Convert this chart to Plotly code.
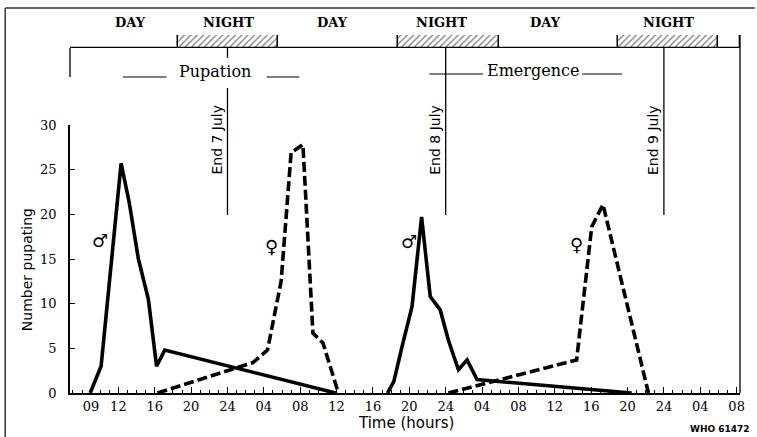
import plotly.graph_objects as go

# ---------------- data (hours counted from 00:00, 7 July) ----------------
male1_h = [8.9, 10.1, 12.3, 13.2, 14.2, 15.3, 16.2, 17.1, 35.9]
male1_n = [0, 3, 25.7, 21.3, 15, 10.5, 3, 4.8, 0]
female1_h = [16.3, 24.2, 26.8, 28.4, 29.9, 31.0, 32.3, 33.4, 34.5, 36.2]
female1_n = [0, 2.6, 3.4, 4.8, 12.5, 26.9, 27.8, 6.7, 5.6, 0]
male2_h = [41.6, 42.3, 43.2, 44.3, 45.35, 46.3, 47.4, 48.3, 49.4, 50.35, 51.45, 68.45]
male2_n = [0, 1.3, 5.2, 9.7, 19.7, 10.8, 9.3, 5.9, 2.6, 3.7, 1.5, 0]
female2_h = [48.3, 62.4, 64.06, 65.3, 70.3]
female2_n = [0, 3.7, 18.6, 21.1, 0]

tick_hours = [9, 12, 16, 20, 24, 28, 32, 36, 40, 44, 48, 52, 56, 60, 64, 68, 72, 76, 80]
tick_text = ["09", "12", "16", "20", "24", "04", "08", "12", "16", "20", "24",
             "04", "08", "12", "16", "20", "24", "04", "08"]
y_ticks = [0, 5, 10, 15, 20, 25, 30]

night_start = [18.6, 42.8, 66.9]
night_end = [29.6, 53.9, 78.0]
period_labels = ["DAY", "NIGHT", "DAY", "NIGHT", "DAY", "NIGHT"]
period_label_h = [13.3, 24.1, 35.5, 47.5, 59.0, 72.5]

day_ends = [24, 48, 72]
day_end_labels = ["End 7 July", "End 8 July", "End 9 July"]

sex_symbols = ["♂", "♀", "♂", "♀"]
sex_h = [10.0, 28.8, 44.0, 62.4]
sex_n = [17.1, 16.4, 17.0, 16.6]

X0, X1 = 6.68, 80.37

# ---------------- layout geometry ----------------
W, H = 757, 437
ML, MR, MT, MB = 70, 15, 30, 44
PH = H - MT - MB  # 363


def py(p):  # pixel row -> paper y
    return (H - MB - p) / PH


def px(p):  # pixel column -> paper x
    return (p - ML) / (W - ML - MR)


fig = go.Figure()

line_style = dict(color="black", width=3.6)
dash_style = dict(color="black", width=3.6, dash="10px,4px")
fig.add_trace(go.Scatter(x=male1_h, y=male1_n, mode="lines", line=line_style, showlegend=False))
fig.add_trace(go.Scatter(x=male2_h, y=male2_n, mode="lines", line=line_style, showlegend=False))
fig.add_trace(go.Scatter(x=female1_h, y=female1_n, mode="lines", line=dash_style, showlegend=False))
fig.add_trace(go.Scatter(x=female2_h, y=female2_n, mode="lines", line=dash_style, showlegend=False))

# day / night bar on its own axis at the top
seg_start, seg_len, seg_pat = [], [], []
prev = X0
for s, e in zip(night_start, night_end):
    seg_start.append(prev); seg_len.append(s - prev); seg_pat.append("")
    seg_start.append(s); seg_len.append(e - s); seg_pat.append("/")
    prev = e
seg_start.append(prev); seg_len.append(X1 - prev); seg_pat.append("")

fig.add_trace(go.Bar(
    x=seg_len, base=seg_start, y=[0.5] * len(seg_len), width=1, orientation="h",
    xaxis="x", yaxis="y2", showlegend=False, hoverinfo="skip",
    marker=dict(color="white", line=dict(color="black", width=1.3),
                pattern=dict(shape=seg_pat, fgcolor="black", bgcolor="white",
                             size=4.5, solidity=0.3)),
))

shapes = []
blk = dict(color="black", width=1.3)
# End-of-day vertical lines
shapes.append(dict(type="line", xref="x", yref="paper", x0=24, x1=24, y0=py(48), y1=py(58), line=blk))
shapes.append(dict(type="line", xref="x", yref="paper", x0=24, x1=24, y0=py(88), y1=py(215), line=blk))
for d in day_ends[1:]:
    shapes.append(dict(type="line", xref="x", yref="paper", x0=d, x1=d, y0=py(48), y1=py(215), line=blk))
# right boundary line
shapes.append(dict(type="line", xref="paper", yref="paper", x0=1, x1=1, y0=0, y1=py(35), line=blk))
# left short line below bar
shapes.append(dict(type="line", xref="paper", yref="paper", x0=0, x1=0, y0=py(48), y1=py(77), line=blk))
# Pupation / Emergence rules
for a, b, yy in [(12.5, 17.3, 77), (28.3, 31.9, 77), (46.2, 52.1, 74), (63.0, 67.4, 74)]:
    shapes.append(dict(type="line", xref="x", yref="paper", x0=a, x1=b, y0=py(yy), y1=py(yy),
                       line=dict(color="black", width=1.1)))
# scan frame
fr = dict(color="#333333", width=1.5)
shapes.append(dict(type="line", xref="paper", yref="paper", x0=px(5), x1=px(757), y0=py(8), y1=py(8), line=fr))
shapes.append(dict(type="line", xref="paper", yref="paper", x0=px(5), x1=px(5), y0=py(8), y1=py(437), line=fr))

ann = []
serif = "DejaVu Serif"
sans = "DejaVu Sans"
C = dict(xanchor="center", yanchor="middle", showarrow=False)
for t, h in zip(period_labels, period_label_h):
    ann.append(dict(text="<b>" + t + "</b>", x=h, xref="x", y=py(22), yref="paper",
                    font=dict(family=serif, size=13, color="black"), **C))
ann.append(dict(text="Pupation", x=22.6, xref="x", y=py(72), yref="paper",
                font=dict(family=serif, size=16, color="black"), **C))
ann.append(dict(text="Emergence", x=57.6, xref="x", y=py(70), yref="paper",
                font=dict(family=serif, size=16, color="black"), **C))
for d, t in zip(day_ends, day_end_labels):
    ann.append(dict(text=t, x=d - 1.2, xref="x", y=py(140), yref="paper",
                    textangle=-90, font=dict(family=sans, size=14, color="black"), **C))
for s, h, n in zip(sex_symbols, sex_h, sex_n):
    ann.append(dict(text=s, x=h, xref="x", y=n, yref="y",
                    font=dict(family=sans, size=18, color="black"), **C))
ann.append(dict(text="Number pupating", x=px(27), xref="paper", y=py(270), yref="paper",
                textangle=-90, font=dict(family=sans, size=14, color="black"), **C))
ann.append(dict(text="Time (hours)", x=px(407), xref="paper", y=py(423), yref="paper",
                font=dict(family=sans, size=15, color="black"), **C))
ann.append(dict(text="<b>WHO 61472</b>", x=px(722), xref="paper", y=py(429), yref="paper",
                font=dict(family=sans, size=9, color="black"), **C))

fig.update_layout(
    width=W, height=H,
    margin=dict(l=ML, r=MR, t=MT, b=MB, pad=0),
    paper_bgcolor="white", plot_bgcolor="white",
    shapes=shapes, annotations=ann,
    xaxis=dict(range=[X0, X1], tickmode="array", tickvals=tick_hours, ticktext=tick_text,
               ticks="inside", ticklen=6, tickwidth=1.2, tickcolor="black",
               minor=dict(dtick=1, tick0=0, ticks="inside", ticklen=3, tickwidth=1, tickcolor="black"),
               showline=True, linecolor="black", linewidth=1.5, showgrid=False, zeroline=False,
               tickfont=dict(family=serif, size=13, color="black"), anchor="y",
               ticklabelstandoff=1),
    yaxis=dict(domain=[0, 268 / PH], range=[0, 30], tickvals=y_ticks,
               ticks="inside", ticklen=5, tickwidth=1.2, tickcolor="black",
               showline=True, linecolor="black", linewidth=1.5, showgrid=False, zeroline=False,
               tickfont=dict(family=serif, size=13, color="black"), ticklabelstandoff=9),
    yaxis2=dict(domain=[py(48), py(35)], range=[0, 1], visible=False, anchor="x"),
    bargap=0,
)

fig.write_html("out.html", config={"displayModeBar": False},
               post_script="document.body.style.margin='0px';document.body.style.overflow='hidden';")
